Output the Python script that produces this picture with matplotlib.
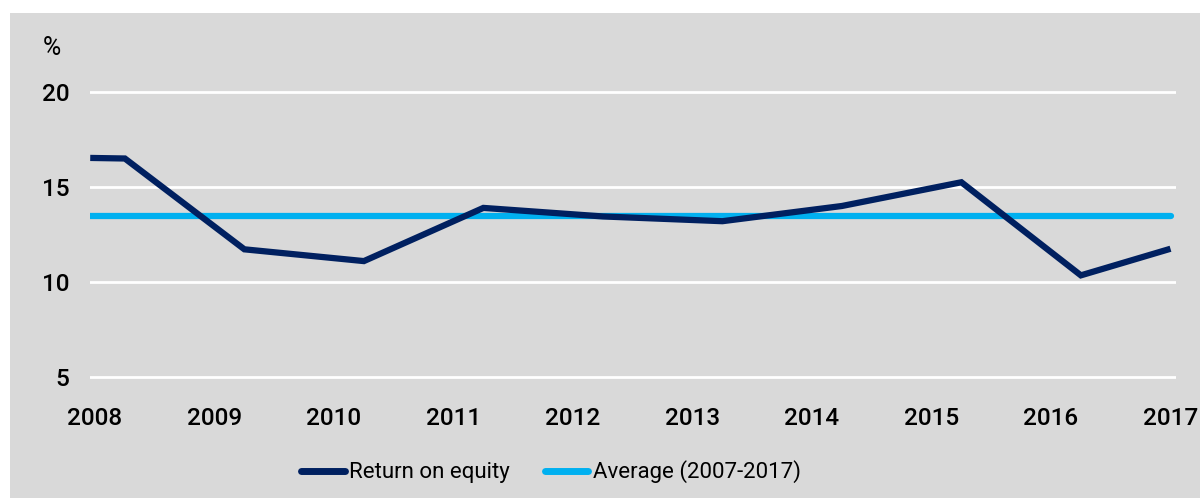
import matplotlib
matplotlib.use("Agg")
import matplotlib.pyplot as plt

years = [2007.96, 2008.25, 2009.25, 2010.25, 2011.25, 2012.25, 2013.25, 2014.25, 2015.25, 2016.25, 2017.0]
roe = [16.53, 16.5, 11.72, 11.1, 13.9, 13.45, 13.2, 14.0, 15.25, 10.35, 11.75]
average = 13.45
avg_span = [2007.96, 2017.0]
tick_years = list(range(2008, 2018))
y_ticks = [5, 10, 15, 20]

W, H = 1200, 498
fig = plt.figure(figsize=(W / 100, H / 100), dpi=100)
fig.patch.set_facecolor("white")
bg = plt.Rectangle((10 / W, 0), 1 - 10 / W, 1 - 13 / H, transform=fig.transFigure,
                   facecolor="#d9d9d9", edgecolor="none", zorder=-10)
fig.patches.append(bg)

x_left, x_right = 90, 1176
top_px, bot_px = 82.5, 386.5
ax = fig.add_axes([x_left / W, 1 - bot_px / H, (x_right - x_left) / W, (bot_px - top_px) / H])
ax.set_facecolor("none")
ax.set_ylim(4.5, 20.5)
px_per_year = 119.5
x0 = 2008 - (95 - x_left) / px_per_year
ax.set_xlim(x0, x0 + (x_right - x_left) / px_per_year)

for t in y_ticks:
    ax.axhline(t, color="white", lw=2, zorder=1)

ax.plot(avg_span, [average, average], color="#00b0f0", lw=4.5, solid_capstyle="round",
        zorder=3, label="Average (2007-2017)")
ax.plot(years, roe, color="#002060", lw=4.5, solid_capstyle="butt", solid_joinstyle="miter",
        zorder=4, label="Return on equity")

for s in ax.spines.values():
    s.set_visible(False)
ax.tick_params(length=0)
ax.set_yticks(y_ticks)
ax.set_yticklabels([str(v) for v in y_ticks], fontsize=17.5, family="Roboto", fontweight="medium")
ax.tick_params(axis="y", pad=15)
ax.set_xticks(tick_years)
ax.set_xticklabels([str(v) for v in tick_years], fontsize=17.5, family="Roboto", fontweight="medium")
ax.tick_params(axis="x", pad=15)

fig.text(52 / W, 1 - 48 / H, "%", fontsize=18, family="Roboto", ha="center", va="center")

handles, labels = ax.get_legend_handles_labels()
leg = fig.legend(handles[::-1], labels[::-1], loc="center", bbox_to_anchor=(551 / W, 1 - 472 / H),
                 ncol=2, frameon=False, prop={"family": "Roboto", "size": 16},
                 handlelength=1.95, handletextpad=0.22, columnspacing=1.55)
for lh in leg.get_lines():
    lh.set_linewidth(5)
    lh.set_solid_capstyle("round")

fig.savefig("out.png", dpi=100, facecolor=fig.get_facecolor())
